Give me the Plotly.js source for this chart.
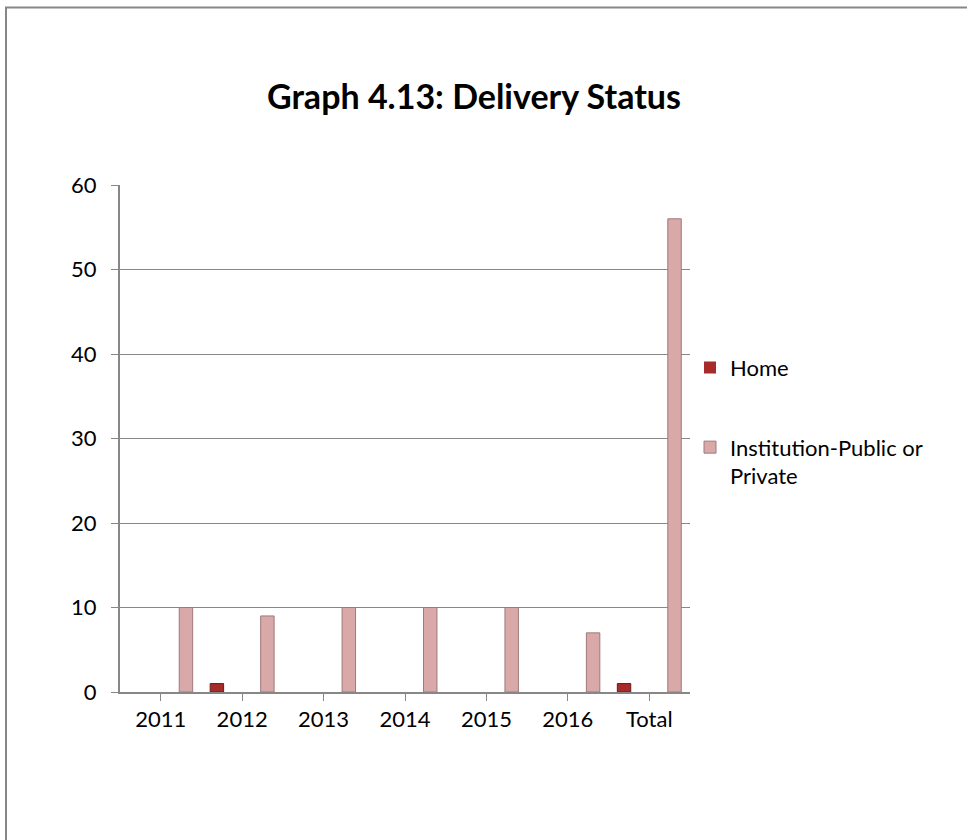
<!DOCTYPE html>
<html>
<head>
<meta charset="utf-8">
<script src="https://cdn.plot.ly/plotly-3.0.1.min.js"></script>
<style>
html,body{margin:0;padding:0;background:#fff;}
#chart{width:967px;height:840px;}
</style>
</head>
<body>
<div id="chart"></div>
<script>
const categories = ["2011", "2012", "2013", "2014", "2015", "2016", "Total"];
const homeValues = [0, 1, 0, 0, 0, 0, 1];
const institutionValues = [10, 9, 10, 10, 10, 7, 56];
const seriesNames = ["Home", "Institution-Public or<br>Private"];
const yTicks = [0, 10, 20, 30, 40, 50, 60];

const idx = categories.map((c, i) => i);
const lineW = vals => vals.map(v => (v > 0 ? 1 : 0));

const traces = [
  {
    type: "bar",
    x: idx,
    y: homeValues,
    name: seriesNames[0],
    legendgroup: "home",
    width: 0.165,
    offset: -0.3925,
    marker: {color: "#a62b2b", line: {color: "#6e1a1a", width: lineW(homeValues)}},
    hoverinfo: "y"
  },
  {
    type: "bar",
    x: idx,
    y: institutionValues,
    name: seriesNames[1],
    legendgroup: "inst",
    width: 0.165,
    offset: 0.2275,
    marker: {color: "#d9a9aa", line: {color: "#a07878", width: lineW(institutionValues)}},
    hoverinfo: "y"
  }
];

const FONT = "Lato, 'Open Sans', sans-serif";

const layout = {
  width: 967,
  height: 840,
  margin: {l: 120, r: 277, t: 185, b: 148},
  paper_bgcolor: "#ffffff",
  plot_bgcolor: "#ffffff",
  font: {family: FONT, color: "#000", size: 22},
  title: {
    text: "<b>Graph 4.13: Delivery Status</b>",
    font: {family: FONT, size: 34, color: "#000"},
    x: 0.621, xanchor: "center", xref: "paper",
    y: 0.885, yref: "container", yanchor: "middle"
  },
  barmode: "overlay",
  showlegend: true,
  legend: {
    x: 1.0, xanchor: "left",
    y: 0.681, yanchor: "top",
    font: {size: 22, family: FONT, color: "#000"},
    tracegroupgap: 48,
    traceorder: "grouped",
    valign: "top",
    itemwidth: 30,
    bgcolor: "rgba(0,0,0,0)"
  },
  xaxis: {
    range: [-0.5, 6.5],
    tickmode: "array",
    tickvals: idx,
    ticktext: categories,
    tickson: "boundaries",
    ticks: "outside",
    ticklen: 7,
    tickcolor: "#878787",
    showline: true,
    linecolor: "#878787",
    linewidth: 2,
    showgrid: false,
    zeroline: false,
    tickfont: {size: 22},
    fixedrange: true
  },
  yaxis: {
    range: [0, 60],
    tickmode: "array",
    tickvals: yTicks,
    ticks: "outside",
    ticklen: 7,
    tickcolor: "#878787",
    showline: true,
    linecolor: "#878787",
    linewidth: 2,
    showgrid: true,
    gridcolor: "#878787",
    gridwidth: 1,
    zeroline: false,
    tickfont: {size: 22},
    ticklabelstandoff: 10,
    fixedrange: true
  },
  shapes: [
    {
      type: "rect", xref: "paper", yref: "paper",
      x0: -0.2, x1: 1.6, y0: -0.4, y1: 1.35,
      line: {color: "#878787", width: 2},
      fillcolor: "rgba(0,0,0,0)",
      layer: "below"
    }
  ]
};

Plotly.newPlot("chart", traces, layout, {displayModeBar: false, staticPlot: true});
</script>
</body>
</html>
